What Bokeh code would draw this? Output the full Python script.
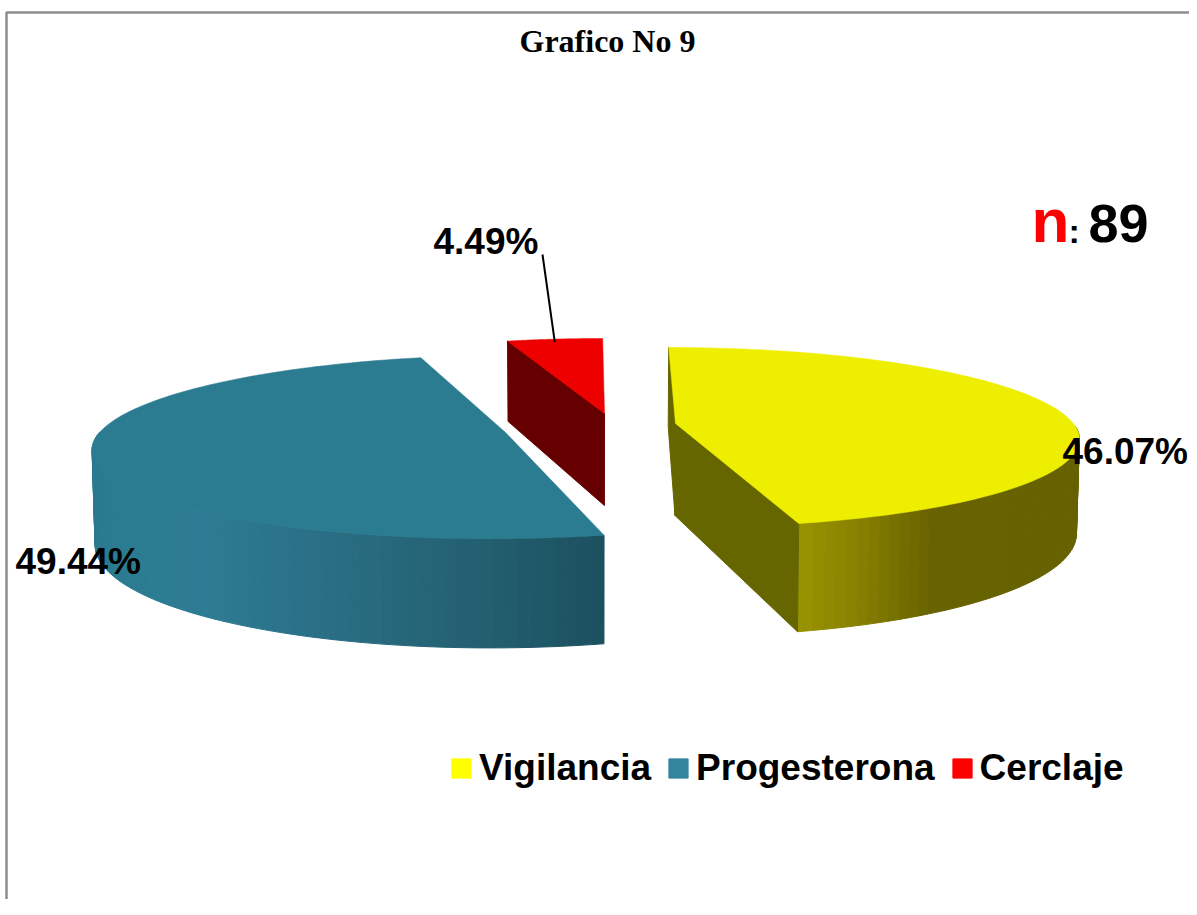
import numpy as np
from bokeh.plotting import figure
from bokeh.embed import file_html
from bokeh.resources import INLINE
from bokeh.models import Legend, LegendItem, ColumnDataSource
from bokeh.core.properties import value

# ---- data
categories = ["Vigilancia", "Progesterona", "Cerclaje"]
shares = [46.07, 49.44, 4.49]
sample_label = "n"
sample_size = "89"
title_text = "Grafico No 9"

# ---- styles
legend_colors = ["#ffff00", "#31859c", "#ff0000"]
top_colors = ["#eeee00", "#2c7c91", "#ee0000"]
radial_colors = ["#666600", None, "#660000"]

# ---- layout of the exploded 3-D pie (picture pixels)
W, H = 1189, 899
VX = 590.0        # x of the vanishing axis
RX, RY = 408.0, 90.0
K = 0.158         # perspective strength
DEPTH = 92.0
BOTTOM_X = 0.994
slice_cx = [85.0, -85.0, 14.0]
slice_cy = [423.0, 432.0, 413.0]
slice_r = [0.975, 0.995, 0.96]
slice_rot = [0.0, 0.4, 0.0]
slice_skew = [-0.06, 0.0, 0.0]

wall_stops = {
    0: [(800, "#989400"), (860, "#867f00"), (930, "#686300"), (1085, "#666200")],
    1: [(604, "#1b4f5e"), (500, "#215d6d"), (400, "#27677a"), (300, "#2a7188"),
        (200, "#2d7c93"), (130, "#2c7c91"), (92, "#2b7a8f")],
}


def hex_rgb(c):
    return np.array([int(c[i:i + 2], 16) for i in (1, 3, 5)], float)


def wall_color(i, x):
    st = sorted(wall_stops[i])
    xs = [s[0] for s in st]
    cs = np.array([hex_rgb(s[1]) for s in st])
    return "#%02x%02x%02x" % tuple(int(round(np.interp(x, xs, cs[:, k]))) for k in range(3))


def project(i, theta, r=1.0):
    t = np.radians(np.asarray(theta) + slice_rot[i])
    u, v = np.sin(t) * r * slice_r[i], np.cos(t) * r * slice_r[i]
    s = 1.0 / (1.0 + K * v)
    dy = -RY * v * s
    return VX + (slice_cx[i] + RX * u) * s + slice_skew[i] * dy, slice_cy[i] + dy, s


def lower(x, y, s):
    return VX + (x - VX) * BOTTOM_X, y + DEPTH * s


# slice angles come from the values, clockwise from 12 o'clock
edges = np.concatenate([[0.0], np.cumsum(shares)]) / sum(shares) * 360.0

p = figure(width=W, height=H, x_range=(0, W), y_range=(H, 0),
           toolbar_location=None, output_backend="svg", min_border=0)
p.axis.visible = False
p.grid.visible = False
p.outline_line_color = None
p.background_fill_color = "#ffffff"
p.border_fill_color = "#ffffff"

# frame of the original sheet
p.line([6, 6, W], [H, 12, 12], line_color="#8c8c8c", line_width=2.5)

wx, wy, wc = [], [], []


def add_wall(i, a, b, color=None):
    xa, ya, sa = project(i, a[0], a[1])
    xb, yb, sb = project(i, b[0], b[1])
    xa2, ya2 = lower(xa, ya, sa)
    xb2, yb2 = lower(xb, yb, sb)
    wx.append([xa, xb, xb2, xa2])
    wy.append([ya, yb, yb2, ya2])
    wc.append(color or wall_color(i, (xa + xb) / 2))


# outer walls, shaded along x (only the parts that face the viewer)
for i in (0, 1):
    a0, a1 = edges[i], edges[i + 1]
    lo, hi = (92.0, a1) if i == 0 else (a0, 270.0)
    th = np.arange(lo, hi, 1.5)
    th = np.append(th, hi)
    for a, b in zip(th[:-1], th[1:]):
        add_wall(i, (a, 1.0), (b, 1.0))

# radial walls
add_wall(0, (edges[0], 1.0), (edges[0], 0.0), radial_colors[0])
add_wall(0, (edges[1], 1.0), (edges[1], 0.0), radial_colors[0])
add_wall(2, (edges[2], 1.0), (edges[2], 0.0), radial_colors[2])

p.patches("xs", "ys", source=ColumnDataSource(dict(xs=wx, ys=wy, c=wc)),
          fill_color="c", line_color="c", line_width=1)

# top faces
for i in range(3):
    th = np.linspace(edges[i], edges[i + 1], 120)
    px, py, _ = project(i, th)
    cx0, cy0, _ = project(i, 0.0, 0.0)
    p.patch(list(px) + [cx0], list(py) + [cy0], fill_color=top_colors[i],
            line_color=top_colors[i], line_width=0.5)

# leader line to the smallest slice
mid = (edges[2] + edges[3]) / 2
lx, ly, _ = project(2, mid)
p.line([542, lx], [254, ly + 3], line_color="#000000", line_width=2)

# labels
FONT = value("Liberation Sans")
label_x = [1062, 15, 433]
label_y = [451, 561, 241]
p.text(label_x, label_y, text=["%.2f%%" % v for v in shares], text_font=FONT,
       text_font_style="bold", text_font_size="37px", text_color="#000000",
       text_align="left", text_baseline="middle")

p.text([607], [40], text=[title_text], text_font=value("Liberation Serif"),
       text_font_style="bold", text_font_size="32px", text_color="#000000",
       text_align="center", text_baseline="middle")
p.text([1031], [220], text=[sample_label], text_font=FONT, text_font_style="bold",
       text_font_size="62px", text_color="#ff0000", text_align="left",
       text_baseline="middle")
p.text([1068], [230], text=[":"], text_font=FONT, text_font_style="bold",
       text_font_size="34px", text_color="#000000", text_align="left",
       text_baseline="middle")
p.text([1088], [223], text=[sample_size], text_font=FONT, text_font_style="bold",
       text_font_size="54px", text_color="#000000", text_align="left",
       text_baseline="middle")

# legend
items = []
for name, col in zip(categories, legend_colors):
    r = p.quad(left=[-50], right=[-40], top=[-50], bottom=[-40], fill_color=col, line_color=col)
    items.append(LegendItem(label=name, renderers=[r]))
leg = Legend(items=items, orientation="horizontal", location=(449, H - 789),
             glyph_width=24, glyph_height=24, label_standoff=6, spacing=15,
             padding=0, margin=0, border_line_color=None, background_fill_alpha=0,
             label_text_font="Liberation Sans", label_text_font_style="bold",
             label_text_font_size="37px", label_text_color="#000000",
             label_height=40)
p.add_layout(leg, "center")

open("out.html", "w").write(file_html(p, INLINE))
